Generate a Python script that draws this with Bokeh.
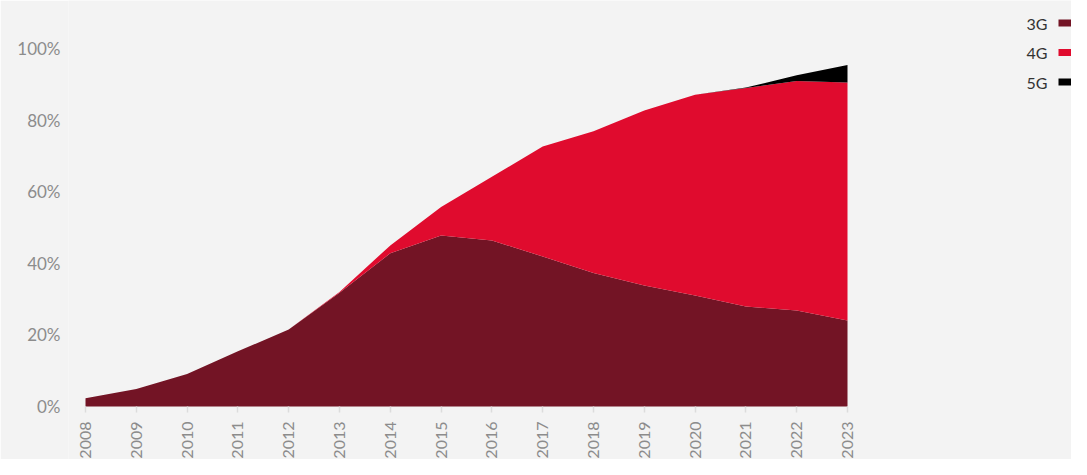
import math
from bokeh.plotting import figure
from bokeh.models import (Range1d, FixedTicker, PrintfTickFormatter,
                          ColumnDataSource)
from bokeh.core.properties import value
from bokeh.embed import file_html
from bokeh.resources import INLINE

# ---- data (percent of connections) ----
years = list(range(2008, 2024))
year_labels = [str(y) for y in years]
g3 = [2.3, 4.9, 9.1, 15.4, 21.5, 31.8, 42.8, 47.8, 46.4, 41.9, 37.3, 33.8, 31.0, 27.9, 26.8, 24.0]
g4 = [0.0, 0.0, 0.0, 0.0, 0.0, 0.2, 2.2, 7.9, 17.8, 30.7, 39.6, 48.9, 56.1, 61.1, 64.1, 66.5]
g5 = [0.0, 0.0, 0.0, 0.0, 0.0, 0.0, 0.0, 0.0, 0.0, 0.0, 0.0, 0.0, 0.0, 0.1, 1.6, 4.9]
series = ["3G", "4G", "5G"]
colors = ["#731425", "#e00b2e", "#000000"]
y_ticks = [0, 20, 40, 60, 80, 100]

# ---- layout constants (pixels) ----
BG = "#f3f3f3"
FONT = "Lato"
LABEL_GREY = "#8c8c8c"
W, H = 1071, 459
FRAME_L = 68       # frame left edge
X_FIRST_PX = 85    # x of first year
X_LAST_PX = 847    # x of last year
Y0_PX = 406        # y of 0 %
Y100_PX = 48       # y of 100 %
px_per_year = (X_LAST_PX - X_FIRST_PX) / (years[-1] - years[0])
px_per_pct = (Y0_PX - Y100_PX) / 100.0

def px_to_x(px):
    return years[0] + (px - X_FIRST_PX) / px_per_year

def py_to_y(py):
    return (Y0_PX - py) / px_per_pct

src = ColumnDataSource(dict(year=years, g3=g3, g4=g4, g5=g5))

p = figure(width=W, height=H, output_backend="svg", toolbar_location=None,
           x_range=Range1d(px_to_x(FRAME_L), px_to_x(W)),
           y_range=Range1d(py_to_y(H), py_to_y(0)),
           min_border_left=FRAME_L, min_border_right=0,
           min_border_top=0, min_border_bottom=0)
p.background_fill_color = BG
p.border_fill_color = BG
p.outline_line_color = None
p.grid.visible = False

p.varea_stack(stackers=["g3", "g4", "g5"], x="year", color=colors, source=src)

# x axis drawn at 0 %, labels rotated (reading upward)
xa = p.xaxis[0]
xa.fixed_location = 0
xa.ticker = FixedTicker(ticks=years)
xa.major_label_overrides = {y: s for y, s in zip(years, year_labels)}
xa.major_label_orientation = math.pi / 2
xa.axis_line_color = None
xa.major_tick_line_color = "#dcdcdc"
xa.major_tick_line_width = 1.5
xa.major_tick_in = 0
xa.major_tick_out = 6
xa.minor_tick_line_color = None
xa.major_label_text_font = FONT
xa.major_label_text_font_size = "16px"
xa.major_label_text_color = LABEL_GREY
xa.major_label_standoff = 9

# y axis
ya = p.yaxis[0]
ya.ticker = FixedTicker(ticks=y_ticks)
ya.formatter = PrintfTickFormatter(format="%d%%")
ya.axis_line_color = None
ya.major_tick_line_color = None
ya.major_tick_in = 0
ya.major_tick_out = 0
ya.minor_tick_line_color = None
ya.major_label_text_font = FONT
ya.major_label_text_font_size = "17px"
ya.major_label_text_color = LABEL_GREY
ya.major_label_standoff = 8

# legend: label text to the left of its colour swatch (top-right corner)
leg_py = [22.5, 52.0, 81.5]
leg_src = ColumnDataSource(dict(
    name=series, color=colors,
    y=[py_to_y(v) for v in leg_py],
    tx=[px_to_x(1047.0)] * 3,
    sx=[px_to_x(1064.5)] * 3))
p.text(x="tx", y="y", text="name", source=leg_src,
       text_align="right", text_baseline="middle",
       text_font=value(FONT), text_font_size=value("16px"),
       text_color="#333333")
p.rect(x="sx", y="y", width=13, height=7, width_units="screen",
       height_units="screen", fill_color="color", line_color=None,
       source=leg_src)

html = file_html(p, INLINE)
html = html.replace("<body>", '<body style="background-color:#f3f3f3;">', 1)
open("out.html", "w").write(html)
